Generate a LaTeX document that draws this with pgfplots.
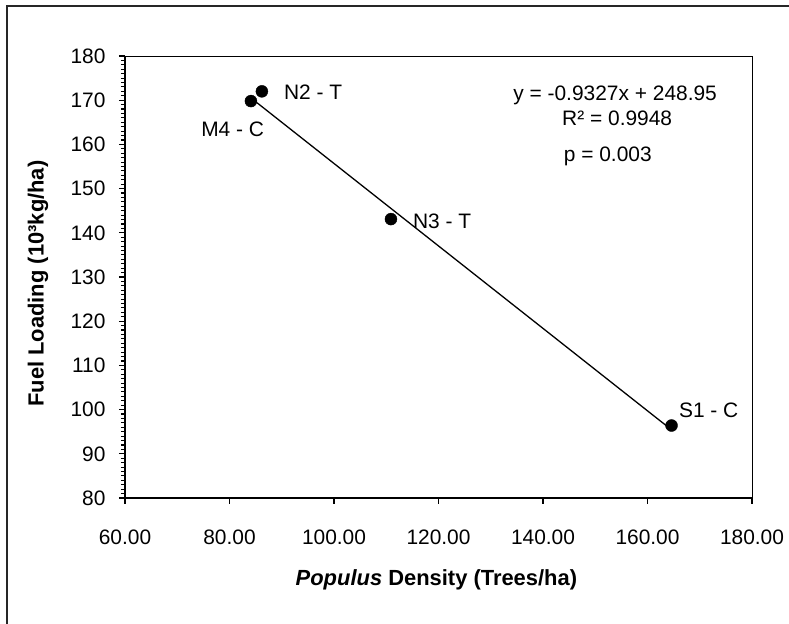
\documentclass[border=0pt]{standalone}
\usepackage{fontspec}
\setmainfont{Liberation Sans}
\usepackage{pgfplots}
\pgfplotsset{compat=1.18}
\newcommand{\chartfont}{\fontsize{21}{25}\selectfont}
\begin{document}
\begin{tikzpicture}[every node/.style={font=\chartfont}]
\useasboundingbox (-125bp,-126bp) rectangle (664bp,498bp);
% chart area frame (cut off at right and bottom in the reference)
\draw[line width=1.2bp, black!85] (-118bp,-160bp) -- (-118bp,492bp) -- (720bp,492bp);
\begin{axis}[
  scale only axis,
  width=627bp, height=442bp,
  xmin=60, xmax=180,
  ymin=80, ymax=180,
  xtick={60,80,...,180},
  ytick={80,90,...,180},
  minor y tick num=9,
  tick pos=left,
  tick align=outside,
  major tick length=6bp,
  minor tick length=4bp,
  tick style={black, line width=1.1bp},
  axis line style={black, line width=0.9bp},
  /pgf/number format/assume math mode=true,
  xticklabel={\pgfmathprintnumber[fixed, fixed zerofill, precision=2, 1000 sep={}]{\tick}},
  yticklabel={\pgfmathprintnumber[fixed, precision=0]{\tick}},
  tick label style={font=\chartfont},
  xticklabel style={yshift=-22bp},
  yticklabel style={xshift=-10bp},
  clip=false,
]
  % linear trendline endpoints (y = -0.9327x + 248.95 over the data range)
  \addplot[black, line width=1.3bp, no marks] coordinates {(84.1,170.51) (164.6,95.43)};
  \addplot[only marks, mark=*, mark size=6bp, black] coordinates {
    (84.1,169.8) (86.2,172.0) (110.9,143.1) (164.6,96.4)
  };
  \draw[line width=2.6bp] (rel axis cs:0,1) -- (rel axis cs:0,0) -- (rel axis cs:1,0);

  \node[anchor=west, inner sep=0pt] at (axis cs:90.4,171.9) {N2 - T};
  \node[inner sep=0pt] at (axis cs:80.6,163.5) {M4 - C};
  \node[anchor=west, inner sep=0pt] at (axis cs:115.1,142.7) {N3 - T};
  \node[anchor=west, inner sep=0pt] at (axis cs:166.0,99.9) {S1 - C};
  \node[inner sep=0pt] at (axis cs:153.8,171.0) {y = -0.9327x + 248.95};
  \node[inner sep=0pt] at (axis cs:154.2,166.0) {R² = 0.9948};
  \node[inner sep=0pt] at (axis cs:152.4,157.4) {p = 0.003};

  \node[inner sep=0pt, font=\fontsize{22}{26}\selectfont] at ([yshift=-82bp]axis cs:119.6,80)
    {\bfseries\itshape Populus\upshape{} Density (Trees/ha)};
  \node[inner sep=0pt, rotate=90, font=\fontsize{22}{26}\selectfont] at ([xshift=-87bp]axis cs:60,128.5)
    {\bfseries Fuel Loading (10³kg/ha)};
\end{axis}
\end{tikzpicture}
\end{document}
